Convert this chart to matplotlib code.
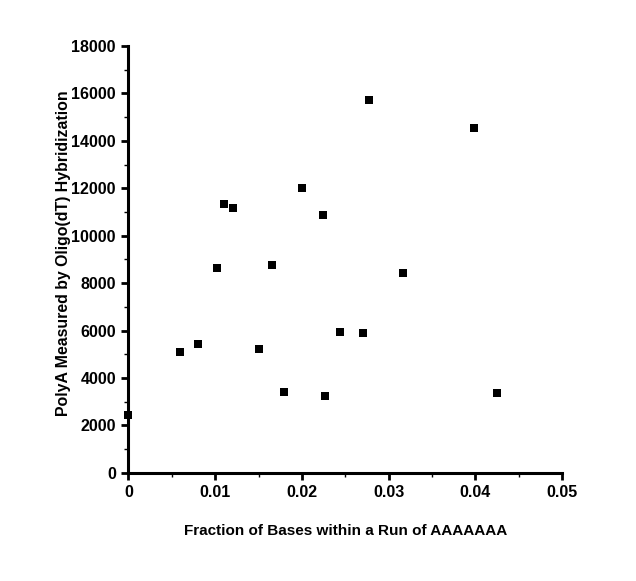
import matplotlib
matplotlib.use("Agg")
import matplotlib.pyplot as plt
from matplotlib.ticker import MultipleLocator, FormatStrFormatter

fraction = [0.0, 0.00593, 0.0080, 0.0102, 0.0110, 0.0121, 0.0151, 0.0166, 0.0179,
            0.0200, 0.0224, 0.0226, 0.0244, 0.0270, 0.0277, 0.0316, 0.0398, 0.0425]
polya = [2440, 5100, 5440, 8640, 11330, 11170, 5220, 8760, 3410,
         12000, 10870, 3240, 5940, 5900, 15710, 8420, 14530, 3370]

xticks = [0, 0.01, 0.02, 0.03, 0.04, 0.05]
xticklabels = ["0", "0.01", "0.02", "0.03", "0.04", "0.05"]
yticks = [0, 2000, 4000, 6000, 8000, 10000, 12000, 14000, 16000, 18000]

plt.rcParams['font.family'] = ['Liberation Sans', 'DejaVu Sans']

fig = plt.figure(figsize=(6.36, 5.81), dpi=100)
ax = fig.add_axes([0.202, 0.186, 0.682, 0.735])
ax.scatter(fraction, polya, marker='s', s=36, color='black', clip_on=False, zorder=3, linewidths=0)
ax.set_xlim(0, 0.05)
ax.set_ylim(0, 18000)
ax.set_xticks(xticks)
ax.set_xticklabels(xticklabels)
ax.set_yticks(yticks)
ax.yaxis.set_major_formatter(FormatStrFormatter('%d'))
ax.xaxis.set_minor_locator(MultipleLocator(0.005))
ax.yaxis.set_minor_locator(MultipleLocator(1000))
for s in ['top', 'right']:
    ax.spines[s].set_visible(False)
for s in ['left', 'bottom']:
    ax.spines[s].set_linewidth(2.2)
ax.tick_params(which='major', direction='out', length=5, width=2, labelsize=11.5, pad=4)
ax.tick_params(which='minor', direction='out', length=3, width=1)
for lab in ax.get_xticklabels() + ax.get_yticklabels():
    lab.set_fontweight('bold')
ax.set_xlabel('Fraction of Bases within a Run of AAAAAAA', fontsize=11.0, fontweight='bold', labelpad=17)
ax.set_ylabel('PolyA Measured by Oligo(dT) Hybridization', fontsize=11.4, fontweight='bold')
ax.yaxis.set_label_coords(-0.132, 0.514)
fig.savefig('out.png', dpi=100, facecolor='white')
